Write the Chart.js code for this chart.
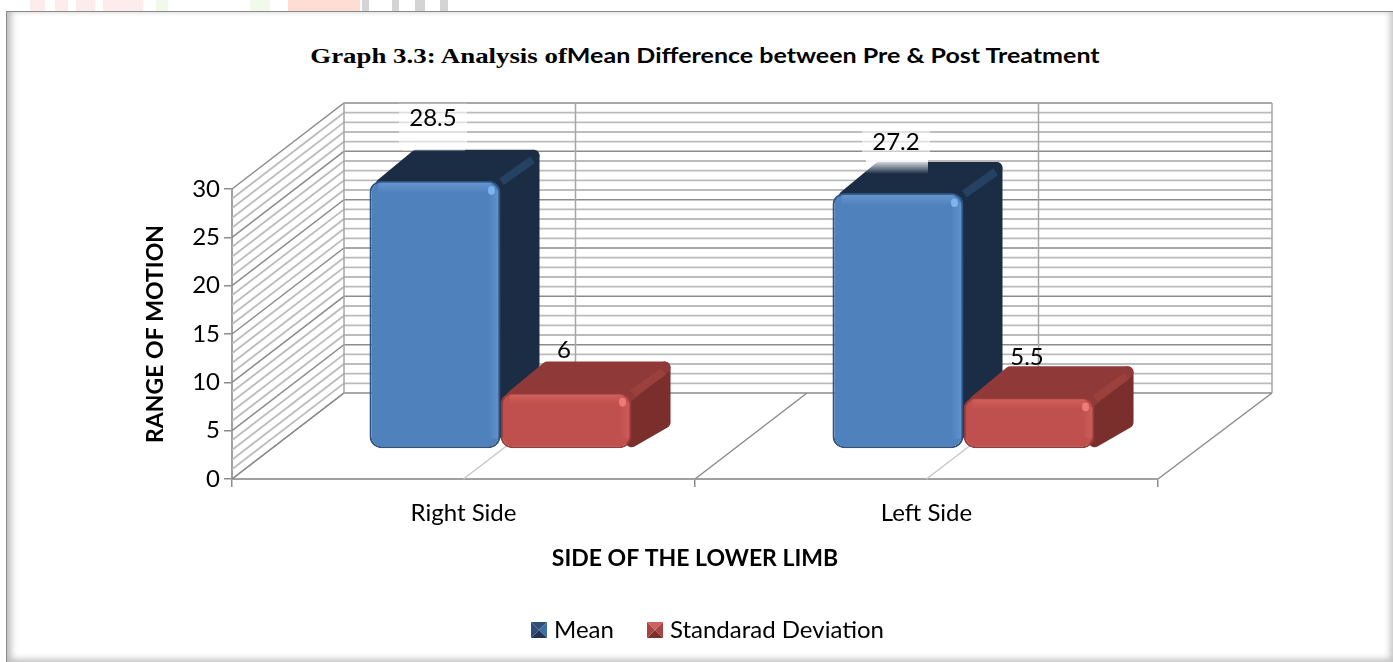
<!DOCTYPE html>
<html>
<head>
<meta charset="utf-8">
<title>Graph 3.3</title>
<script src="https://cdn.jsdelivr.net/npm/chart.js@4"></script>
<style>
  html, body { margin: 0; padding: 0; background: #fff; overflow: hidden; }
  #stage { position: relative; width: 1393px; height: 662px; }
  #watermark {
    position: absolute; left: 0; top: 0; width: 1393px; height: 12px;
    background: linear-gradient(90deg, #fff 30px, #fdecec 30px, #fdecec 45px, #fff 45px, #fff 55px,
      #fdecec 55px, #fdecec 68px, #fff 68px, #fff 76px, #fdecec 76px, #fdecec 95px, #fff 95px, #fff 103px,
      #fdecec 103px, #fdecec 143px, #fff 143px, #fff 156px, #f1faea 156px, #f1faea 168px, #fff 168px,
      #fff 250px, #f1faea 250px, #f1faea 270px, #fff 270px, #fff 288px, #ffdcd4 288px, #ffdcd4 360px,
      #fff 360px, #fff 362px, #d4d4d4 362px, #d4d4d4 369px, #fff 369px, #fff 392px, #d4d4d4 392px, #d4d4d4 399px,
      #fff 399px, #fff 415px, #d4d4d4 415px, #d4d4d4 425px, #fff 425px, #fff 440px, #d4d4d4 440px, #d4d4d4 448px, #fff 448px);
  }
  #frame {
    position: absolute; left: 6px; top: 11px; width: 1387px; height: 651px; box-sizing: border-box;
    border-top: 1.5px solid #8a8a8a; border-left: 1.5px solid #8a8a8a; background: #fff;
    box-shadow: inset 8px 0 7px -4px #bbb, inset -7px -7px 6px -4px #c6c6c6, inset 0 4px 4px -3px #e6e6e6;
  }
  #graphTitle {
    position: absolute; left: 0; top: 43px; width: 1410px; text-align: center; color: #000; white-space: nowrap;
    transform: scaleX(1.22);
  }
  #graphTitle .a { font: bold 22px "Liberation Serif", serif; }
  #graphTitle .b { font: bold 20.5px Lato, sans-serif; }
  canvas { position: absolute; left: 0; top: 0; }
</style>
</head>
<body>
<div id="stage">
  <div id="watermark"></div>
  <div id="frame"></div>
  <div id="graphTitle"><span class="a">Graph 3.3: Analysis of</span><span class="b">Mean Difference between Pre &amp; Post Treatment</span></div>
  <canvas id="myChart" width="1393" height="662"></canvas>
</div>
<script>
const categories = ['Right Side', 'Left Side'];
const meanValues = [28.5, 27.2];
const sdValues = [6, 5.5];
const seriesNames = ['Mean', 'Standarad Deviation'];
const yTicks = [0, 5, 10, 15, 20, 25, 30];

const fontName = 'Lato, sans-serif';
const labelSize = 24;

// the 3D look: how far the back wall and the bars are pushed
const wallX = 112, wallY = 86;
const barX = 37, barY = 30, barSquash = 0.974;
const depthX = 39, depthY = 31;
const labelLift = [[62, 51], [42, 40]];

const looks = [
  { front: '#4f81bd', edge: '#2f5380', top: '#1b2c45', side: '#1b2c45', strip: '#264263', light: 'rgba(150,195,245,', spot: '#7db4ee' },
  { front: '#c0504d', edge: '#963b39', top: '#8f3a38', side: '#7a2f2d', strip: '#9c403e', light: 'rgba(245,130,125,', spot: '#f07b76' }
];

function swatch(c1, c2, c3, c4) {
  const cv = document.createElement('canvas');
  cv.width = 16; cv.height = 16;
  const g = cv.getContext('2d');
  const tri = (c, pts) => {
    g.fillStyle = c; g.beginPath();
    pts.forEach((p, i) => i ? g.lineTo(p[0], p[1]) : g.moveTo(p[0], p[1]));
    g.closePath(); g.fill();
  };
  tri(c1, [[0, 0], [16, 0], [8, 8]]);
  tri(c2, [[16, 0], [16, 16], [8, 8]]);
  tri(c3, [[16, 16], [0, 16], [8, 8]]);
  tri(c4, [[0, 16], [0, 0], [8, 8]]);
  return cv;
}
const swatches = [
  swatch('#2c4d75', '#3f6da5', '#1f3552', '#2c4d75'),
  swatch('#d0625e', '#a84441', '#7a2f2d', '#a84441')
];

function rounded(ctx, pts, color) {
  // polygon with soft corners, drawn inset then stroked with round joins
  ctx.fillStyle = color;
  ctx.strokeStyle = color;
  ctx.lineWidth = 12;
  ctx.lineJoin = 'round';
  ctx.beginPath();
  pts.forEach((p, i) => i ? ctx.lineTo(p[0], p[1]) : ctx.moveTo(p[0], p[1]));
  ctx.closePath();
  ctx.fill();
  ctx.stroke();
}

const frontY = (bar, y) => bar.base - barY + (y - bar.base) * barSquash;

const walls = {
  id: 'walls',
  beforeDatasetsDraw(chart) {
    const { ctx, chartArea: a, scales } = chart;
    const y = scales.y;
    ctx.save();
    ctx.lineCap = 'butt';
    // side wall and back wall lines, one per unit
    for (let v = 30; v >= 0; v--) {
      const py = y.getPixelForValue(v);
      const major = v % 5 === 0;
      ctx.strokeStyle = major ? '#8c8c8c' : '#bcbcbc';
      ctx.lineWidth = major ? 1.5 : 1.8;
      ctx.beginPath();
      ctx.moveTo(a.left, py);
      ctx.lineTo(a.left + wallX, py - wallY);
      ctx.lineTo(a.right + wallX + 2, py - wallY);
      ctx.stroke();
    }
    ctx.strokeStyle = '#a6a6a6';
    ctx.lineWidth = 1.5;
    ctx.beginPath();
    const top = y.getPixelForValue(30), base = y.getPixelForValue(0);
    ctx.moveTo(a.left + wallX, top - wallY);
    ctx.lineTo(a.left + wallX, base - wallY);
    ctx.moveTo(a.right + wallX + 2, top - wallY);
    ctx.lineTo(a.right + wallX + 2, base - wallY);
    categories.forEach((c, i) => {
      const cx = scales.x.getPixelForValue(i) + wallX;
      ctx.moveTo(cx, top - wallY);
      ctx.lineTo(cx, base - wallY);
    });
    ctx.stroke();
    // floor
    ctx.strokeStyle = '#8c8c8c';
    ctx.beginPath();
    const mid = (a.left + a.right) / 2;
    [a.left, mid, a.right].forEach(px => {
      ctx.moveTo(px, base);
      ctx.lineTo(px + wallX + (px === a.right ? 2 : 0), base - wallY);
    });
    ctx.stroke();
    ctx.strokeStyle = '#c8c8c8';
    ctx.beginPath();
    categories.forEach((c, i) => {
      const cx = scales.x.getPixelForValue(i);
      ctx.moveTo(cx, base);
      ctx.lineTo(cx + wallX, base - wallY);
    });
    ctx.stroke();

    // depth faces of the bars, mean first so the red ones sit over them
    [0, 1].forEach(d => {
      const look = looks[d];
      chart.getDatasetMeta(d).data.forEach(bar => {
        const L = bar.x - bar.width / 2 + barX;
        const R = bar.x + bar.width / 2 + barX;
        const T = frontY(bar, bar.y);
        const B = bar.base - barY;
        const foot = d === 0 ? [R - 8, B - 14] : [R, B - 7];
        rounded(ctx, [[R - 2, T + 8], [R + depthX - 6, T - depthY + 6], [R + depthX - 6, B - depthY + 5], foot], look.side);
        rounded(ctx, [[L + 12, T + 4], [L + depthX + 8, T - depthY + 6], [R + depthX - 6, T - depthY + 6], [R - 4, T + 4]], look.top);
        ctx.strokeStyle = look.strip;
        ctx.lineWidth = 8;
        ctx.lineCap = 'butt';
        ctx.beginPath();
        ctx.moveTo(R + 1, T + 1);
        ctx.lineTo(R + depthX - 7, T - depthY + 10);
        ctx.stroke();
      });
    });
    ctx.restore();
  },
  beforeDatasetDraw(chart, args) {
    const { ctx } = chart;
    const base = chart.scales.y.getPixelForValue(0);
    ctx.save();
    ctx.translate(barX, base - barY);
    ctx.scale(1, barSquash);
    ctx.translate(0, -base);
  },
  afterDatasetDraw(chart, args) {
    const { ctx } = chart;
    const look = looks[args.index];
    // soft bevel on the front faces
    args.meta.data.forEach(bar => {
      const L = bar.x - bar.width / 2, R = bar.x + bar.width / 2;
      let g = ctx.createLinearGradient(0, bar.y + 2, 0, bar.y + 13);
      g.addColorStop(0, look.light + '0.3)');
      g.addColorStop(1, look.light + '0)');
      ctx.fillStyle = g;
      ctx.fillRect(L + 9, bar.y + 2, bar.width - 18, 11);
      g = ctx.createLinearGradient(R - 12, 0, R - 2, 0);
      g.addColorStop(0, look.light + '0)');
      g.addColorStop(1, look.light + '0.25)');
      ctx.fillStyle = g;
      ctx.fillRect(R - 12, bar.y + 10, 10, bar.base - bar.y - 20);
      ctx.fillStyle = look.spot;
      ctx.beginPath();
      ctx.ellipse(R - 9, bar.y + 10, 3.5, 4.5, 0, 0, Math.PI * 2);
      ctx.fill();
    });
    ctx.restore();
  },
  afterDatasetsDraw(chart) {
    const { ctx } = chart;
    ctx.save();
    // washed out box behind the two mean labels
    chart.getDatasetMeta(0).data.forEach((bar, i) => {
      const cx = bar.x + barX - 2;
      const T = frontY(bar, bar.y);
      const ly = T - labelLift[0][i];
      const backTop = T - depthY - 2;
      ctx.fillStyle = 'rgba(255,255,255,0.55)';
      ctx.fillRect(cx - 34, ly - 15, 68, backTop - ly + 15);
      const spill = i === 0 ? 4 : 14;
      const g = ctx.createLinearGradient(0, backTop, 0, backTop + spill);
      g.addColorStop(0, 'rgba(255,255,255,0.95)');
      g.addColorStop(1, 'rgba(255,255,255,0)');
      ctx.fillStyle = g;
      ctx.fillRect(cx - 30, backTop, 62, spill);
    });
    ctx.fillStyle = '#000';
    ctx.font = labelSize + 'px ' + fontName;
    ctx.textAlign = 'center';
    ctx.textBaseline = 'middle';
    [0, 1].forEach(d => {
      chart.getDatasetMeta(d).data.forEach((bar, i) => {
        const values = d === 0 ? meanValues : sdValues;
        ctx.fillText(String(values[i]), bar.x + barX - 2, frontY(bar, bar.y) - labelLift[d][i]);
      });
    });
    ctx.restore();
  },
  afterLayout(chart) {
    // legend sits right of the middle and lower than the box it is given
    chart.legend.left += 60;
    chart.legend.right += 60;
    chart.legend.top -= 10;
    chart.legend.bottom -= 10;
  }
};

new Chart(document.getElementById('myChart'), {
  type: 'bar',
  data: {
    labels: categories,
    datasets: [
      { label: seriesNames[0], data: meanValues, backgroundColor: looks[0].front, borderColor: looks[0].edge, borderWidth: 2, borderRadius: 12, borderSkipped: false },
      { label: seriesNames[1], data: sdValues, backgroundColor: looks[1].front, borderColor: looks[1].edge, borderWidth: 2, borderRadius: 12, borderSkipped: false }
    ]
  },
  plugins: [walls],
  options: {
    responsive: false,
    animation: false,
    events: [],
    datasets: { bar: { categoryPercentage: 0.566, barPercentage: 1 } },
    layout: { padding: { left: 142, right: 235, top: 189, bottom: 0 } },
    plugins: {
      tooltip: { enabled: false },
      title: { display: false },
      legend: {
        position: 'bottom',
        labels: {
          usePointStyle: true,
          pointStyleWidth: 6,
          color: '#000',
          padding: 38,
          font: { family: fontName, size: labelSize },
          generateLabels: () => seriesNames.map((name, i) => ({
            text: name, pointStyle: swatches[i], datasetIndex: i, lineWidth: 0,
            fillStyle: looks[i].front, strokeStyle: looks[i].front
          }))
        }
      }
    },
    scales: {
      x: {
        grid: { drawOnChartArea: false, drawTicks: true, tickLength: 8, color: '#8c8c8c', lineWidth: 1.5 },
        border: { color: '#a0a0a0', width: 2 },
        ticks: { color: '#000', padding: 12, font: { family: fontName, size: labelSize } },
        title: { display: true, text: 'SIDE OF THE LOWER LIMB', color: '#000', padding: { top: 12, bottom: 18 }, font: { family: fontName, size: labelSize - 1, weight: 'bold' } },
        afterFit(axis) { axis.height = 111; }
      },
      y: {
        min: 0,
        max: 30,
        afterBuildTicks(axis) { axis.ticks = yTicks.map(v => ({ value: v })); },
        grid: { drawOnChartArea: false, drawTicks: true, tickLength: 8, color: '#8c8c8c', lineWidth: 1.5 },
        border: { color: '#a0a0a0', width: 2 },
        ticks: { color: '#000', padding: 4, font: { family: fontName, size: labelSize } },
        title: { display: true, text: 'RANGE OF MOTION', color: '#000', padding: 0, font: { family: fontName, size: labelSize - 1, weight: 'bold' } },
        afterFit(axis) { axis.width = 90; }
      }
    }
  }
});
</script>
</body>
</html>
